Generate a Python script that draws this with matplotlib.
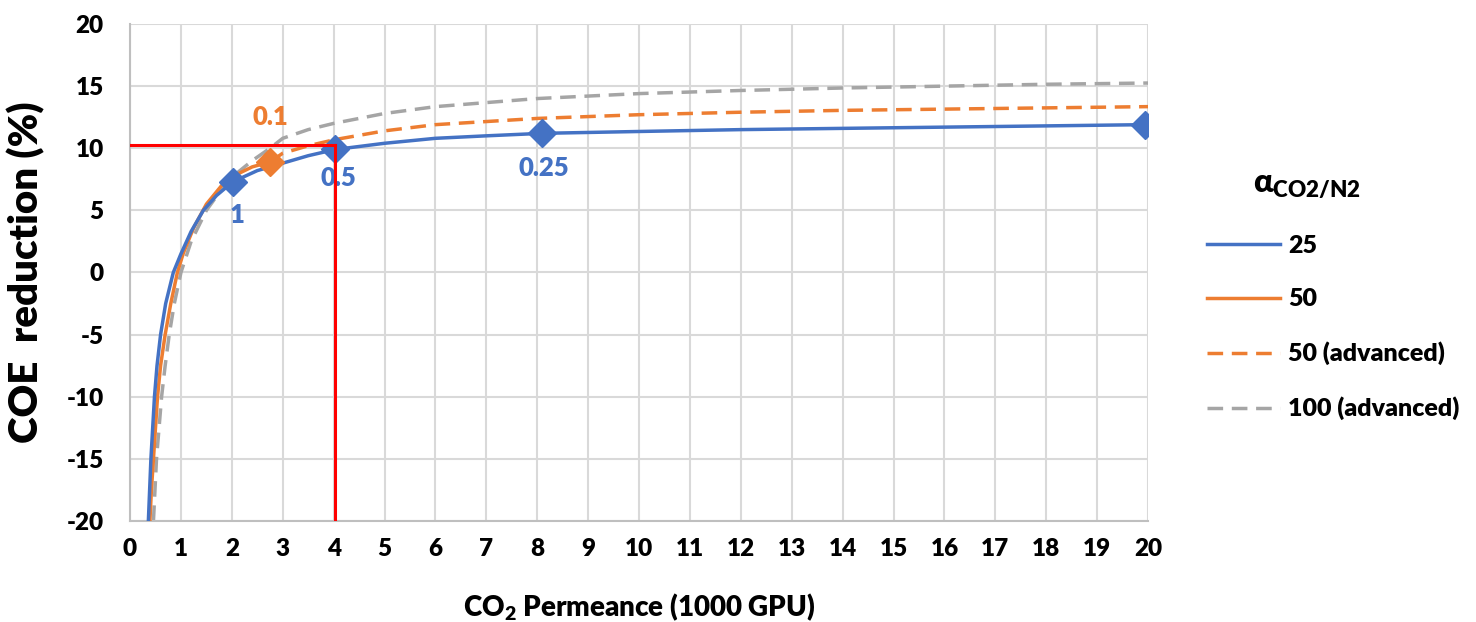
import matplotlib.pyplot as plt

plt.rcParams['font.family'] = ['Lato', 'DejaVu Sans']
plt.rcParams['font.weight'] = 'heavy'
plt.rcParams['axes.labelweight'] = 'heavy'
plt.rcParams['axes.unicode_minus'] = False
plt.rcParams['mathtext.fontset'] = 'custom'
plt.rcParams['mathtext.rm'] = 'Lato:heavy'
plt.rcParams['mathtext.bf'] = 'Lato:heavy'
plt.rcParams['mathtext.it'] = 'Lato:heavy'

# --------------------------

x25 = [0.36, 0.385, 0.41, 0.445, 0.48, 0.53, 0.60, 0.70, 0.85, 1.0, 1.2, 1.44, 1.7, 2.02,
       2.5, 3.0, 3.5, 4.03, 5, 6, 7, 8.09, 10, 12, 14, 16, 18, 19.95]
y25 = [-20, -17.5, -15, -12.5, -10, -7.5, -5, -2.5, 0, 1.5, 3.3, 5.0, 6.2, 7.3,
       8.2, 8.8, 9.4, 9.9, 10.4, 10.8, 11.0, 11.2, 11.35, 11.5, 11.6, 11.7, 11.8, 11.9]

x50 = [0.39, 0.42, 0.46, 0.50, 0.54, 0.60, 0.69, 0.80, 0.93, 1.05, 1.25, 1.5, 1.8, 2.1, 2.4, 2.75]
y50 = [-20, -17.5, -15, -12.5, -10, -7.5, -5, -2.5, 0, 1.6, 3.6, 5.5, 7.0, 7.9, 8.5, 8.9]

x50a = [2.75, 3.0, 3.5, 4.03, 5, 6, 8, 10, 12, 14, 16, 18, 20]
y50a = [8.9, 9.6, 10.2, 10.7, 11.4, 11.9, 12.4, 12.7, 12.9, 13.05, 13.15, 13.25, 13.35]

x100a = [0.46, 0.49, 0.52, 0.57, 0.62, 0.69, 0.77, 0.87, 1.0, 1.2, 1.5, 1.8, 2.1, 2.4, 2.75,
         3.0, 3.5, 4.0, 5, 6, 8, 10, 12, 14, 16, 18, 20]
y100a = [-20, -17.5, -15, -12.5, -10, -7.5, -5, -2.5, 0, 2.5, 5.0, 6.7, 8.0, 9.0, 10.0,
         10.8, 11.5, 12.0, 12.8, 13.35, 14.0, 14.4, 14.65, 14.85, 15.0, 15.15, 15.25]

# marked points and their labels
mark25_x = [2.02, 4.03, 8.09, 19.95]
mark25_y = [7.3, 9.9, 11.2, 11.9]
lab25 = ["1", "0.5", "0.25"]
lab25_pos = [(2.1, 4.6), (4.1, 7.6), (8.13, 8.4)]

mark50_x = [2.75]
mark50_y = [8.9]
lab50 = "0.1"
lab50_pos = (2.75, 12.5)

target_x = 4.03
target_y = 10.25

# --------------------------

blue = "#4472c4"
orange = "#ed7d31"
gray = "#a5a5a5"
dash = (0, (4.5, 2.5))

fig = plt.figure(figsize=(14.76, 6.22), dpi=100)
ax = fig.add_axes([0.0881, 0.1624, 0.6897, 0.799])

ax.plot(x25, y25, color=blue, lw=2.5, label="25", zorder=4)
ax.plot(x50, y50, color=orange, lw=2.5, label="50", zorder=3)
ax.plot(x50a, y50a, color=orange, lw=2.5, ls=dash, label="50 (advanced)", zorder=3)
ax.plot(x100a, y100a, color=gray, lw=2.5, ls=dash, label="100 (advanced)", zorder=2)

ax.plot(mark25_x, mark25_y, ls="none", marker="D", ms=14, color=blue, zorder=5)
ax.plot(mark50_x, mark50_y, ls="none", marker="D", ms=14, color=orange, zorder=5)

for t, (tx, ty) in zip(lab25, lab25_pos):
    ax.text(tx, ty, t, color=blue, fontsize=18.5, ha="center", va="center")
ax.text(lab50_pos[0], lab50_pos[1], lab50, color=orange, fontsize=18.5,
        ha="center", va="center")

ax.plot([0, target_x], [target_y, target_y], color="red", lw=2.2, zorder=6)
ax.plot([target_x, target_x], [-19.8, target_y], color="red", lw=2.2, zorder=6)

ax.set_xlim(0, 20)
ax.set_ylim(-20, 20)
ax.set_xticks(range(0, 21))
ax.set_yticks(range(-20, 21, 5))
ax.grid(True, color="#d9d9d9", lw=1.5)
ax.set_axisbelow(True)
ax.tick_params(length=0, labelsize=17.5)
ax.tick_params(axis="y", pad=19)
ax.tick_params(axis="x", pad=12)
for lbl in ax.get_xticklabels() + ax.get_yticklabels():
    lbl.set_fontweight("heavy")
for s in ["top", "right"]:
    ax.spines[s].set_visible(False)
for s in ["left", "bottom"]:
    ax.spines[s].set_color("#bfbfbf")
    ax.spines[s].set_linewidth(1.5)

ax.set_xlabel("CO$_2$ Permeance (1000 GPU)", fontsize=20, fontweight="heavy")
ax.set_ylabel("COE  reduction (%)", fontsize=29, fontweight="heavy")
ax.xaxis.set_label_coords(0.5, -0.142)
ax.yaxis.set_label_coords(-0.083, 0.5)

ax.text(1.156, 0.676, r"$\alpha_{\mathregular{CO2/N2}}$", transform=ax.transAxes,
        fontsize=23, ha="center", va="center")

leg = ax.legend(loc="upper left", bbox_to_anchor=(1.058, 0.575), frameon=False,
                fontsize=18, handlelength=2.9, handletextpad=0.35,
                labelspacing=1.25, borderpad=0, borderaxespad=0)

fig.savefig("out.png", dpi=100)
